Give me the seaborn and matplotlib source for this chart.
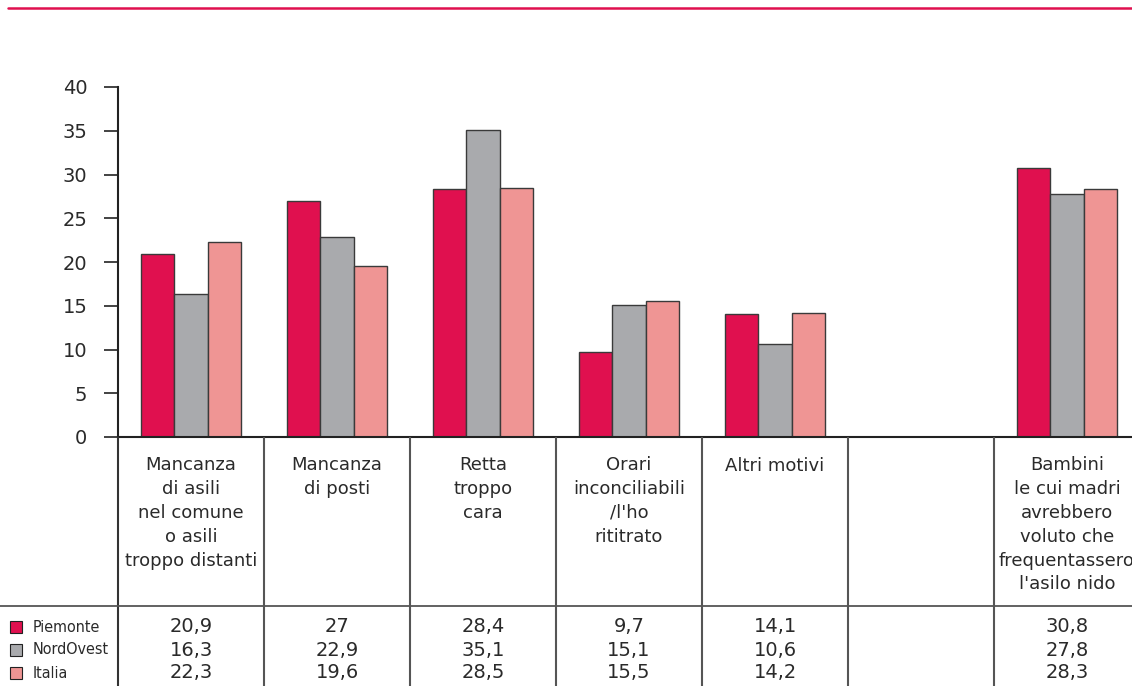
import matplotlib
matplotlib.use("Agg")
import matplotlib.pyplot as plt
import seaborn as sns
import pandas as pd

categories = [
    "Mancanza\ndi asili\nnel comune\no asili\ntroppo distanti",
    "Mancanza\ndi posti",
    "Retta\ntroppo\ncara",
    "Orari\ninconciliabili\n/l'ho\nrititrato",
    "Altri motivi",
    "",
    "Bambini\nle cui madri\navrebbero\nvoluto che\nfrequentassero\nl'asilo nido",
]
series = ["Piemonte", "NordOvest", "Italia"]
piemonte = [20.9, 27, 28.4, 9.7, 14.1, None, 30.8]
nordovest = [16.3, 22.9, 35.1, 15.1, 10.6, None, 27.8]
italia = [22.3, 19.6, 28.5, 15.5, 14.2, None, 28.3]
labels_piemonte = ["20,9", "27", "28,4", "9,7", "14,1", "", "30,8"]
labels_nordovest = ["16,3", "22,9", "35,1", "15,1", "10,6", "", "27,8"]
labels_italia = ["22,3", "19,6", "28,5", "15,5", "14,2", "", "28,3"]
yticks = [0, 5, 10, 15, 20, 25, 30, 35, 40]

colors = ["#E0104F", "#A9AAAD", "#EF9594"]
text_c = "#2a2a2a"

sns.set_theme(style="white")
plt.rcParams["font.family"] = ["DejaVu Sans"]

rows = []
for s, vals in zip(series, [piemonte, nordovest, italia]):
    for c, v in zip(categories, vals):
        if v is not None:
            rows.append({"cat": c, "serie": s, "val": v})
df = pd.DataFrame(rows)

W, H = 1132, 686
fig = plt.figure(figsize=(W / 100, H / 100), dpi=100)

x0, x1 = 118, 118 + 146 * 7
y_zero, y_top = 437, 87
ax = fig.add_axes([x0 / W, (H - y_zero) / H, (x1 - x0) / W, (y_zero - y_top) / H])
sns.barplot(data=df, x="cat", y="val", hue="serie", order=categories,
            hue_order=series, palette=colors, width=0.68, edgecolor="#3a3a3a",
            linewidth=1.0, ax=ax, legend=False, saturation=1)
ax.set_xlim(-0.5, 6.5)
ax.set_ylim(0, 40)
ax.set_yticks(yticks)
ax.set_yticklabels([str(t) for t in yticks], fontsize=14, color=text_c)
ax.set_xticks([])
ax.set_xlabel("")
ax.set_ylabel("")
for sp in ["top", "right"]:
    ax.spines[sp].set_visible(False)
ax.spines["left"].set_color("#222222")
ax.spines["left"].set_linewidth(1.5)
ax.spines["bottom"].set_color("#222222")
ax.spines["bottom"].set_linewidth(1.5)
ax.tick_params(axis="y", direction="out", length=10, width=1.2, color="#222222", pad=12, left=True)

# table axes
ax_t = fig.add_axes([0, 0, (x1) / W, (H - y_zero) / H])
ax_t.set_xlim(-0.5 - 118 / 146, 6.5)
ax_t.set_ylim(H - y_zero, 0)
ax_t.axis("off")
line_c = "#555555"
for k in range(7):
    ax_t.plot([k - 0.5, k - 0.5], [0, H - y_zero], color="#333333" if k == 0 else line_c, lw=1.5)
ax_t.plot([-0.5 - 118 / 146, 6.5], [606 - y_zero, 606 - y_zero], color=line_c, lw=1.3)

for i, c in enumerate(categories):
    if c.count("\n") == 0:
        ax_t.text(i, 466 - y_zero, c, ha="center", va="center", fontsize=13, color=text_c)
    else:
        ax_t.text(i, 456 - y_zero, c, ha="center", va="top", fontsize=13, color=text_c,
                  linespacing=1.42)

row_y = [627 - y_zero, 650 - y_zero, 673 - y_zero]
for ry, labs in zip(row_y, [labels_piemonte, labels_nordovest, labels_italia]):
    for i, l in enumerate(labs):
        ax_t.text(i, ry, l, ha="center", va="center", fontsize=14, color=text_c)

# legend squares
px = lambda p: -0.5 - 118 / 146 + p / 146
for ry, s, col in zip(row_y, series, colors):
    ax_t.add_patch(plt.Rectangle((px(10), ry - 6), 12 / 146, 12, facecolor=col,
                                 edgecolor="#222222", lw=0.8))
    ax_t.text(px(33), ry, s, ha="left", va="center", fontsize=11.5, color=text_c,
              family=["DejaVu Sans"], stretch="condensed")

fig.add_artist(plt.Line2D([8 / W, 1], [1 - 8 / H, 1 - 8 / H], color="#E0104F", lw=1.8))

fig.savefig("out.png", dpi=100)
